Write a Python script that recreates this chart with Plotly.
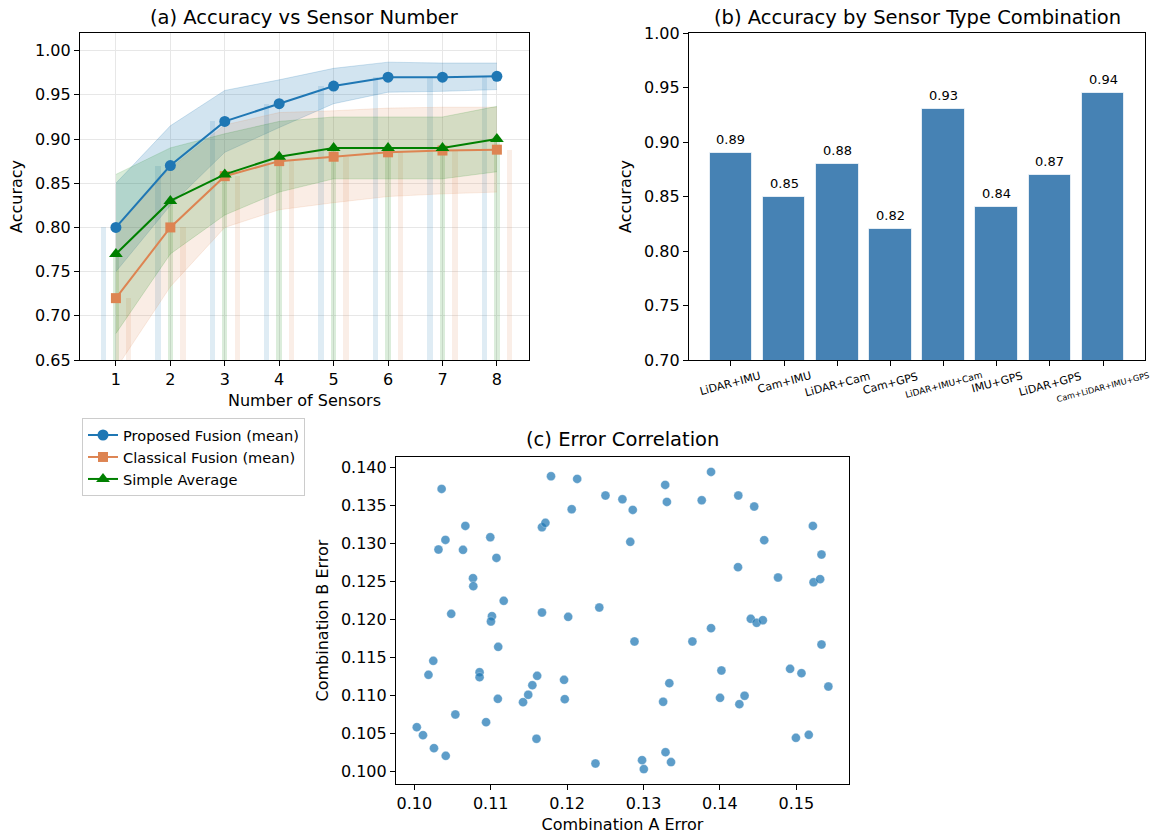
import plotly.graph_objects as go

# ---------------- (a) accuracy vs number of sensors ----------------
n_sensors = [1, 2, 3, 4, 5, 6, 7, 8]
proposed_mean = [0.80, 0.87, 0.92, 0.94, 0.96, 0.97, 0.97, 0.971]
proposed_std = [0.05, 0.045, 0.035, 0.027, 0.02, 0.017, 0.016, 0.015]
classical_mean = [0.72, 0.80, 0.858, 0.875, 0.88, 0.885, 0.887, 0.888]
classical_std = [0.08, 0.067, 0.058, 0.055, 0.052, 0.05, 0.049, 0.048]
simple_mean = [0.77, 0.83, 0.86, 0.88, 0.89, 0.89, 0.89, 0.90]
simple_std = [0.09, 0.06, 0.046, 0.04, 0.035, 0.035, 0.035, 0.037]

# ---------------- (b) accuracy by sensor combination ----------------
combos = ["LiDAR+IMU", "Cam+IMU", "LiDAR+Cam", "Cam+GPS",
          "LiDAR+IMU+Cam", "IMU+GPS", "LiDAR+GPS", "Cam+LiDAR+IMU+GPS"]
combo_acc = [0.89, 0.85, 0.88, 0.82, 0.93, 0.84, 0.87, 0.945]

# ---------------- (c) error correlation ----------------
err_a = [0.10357, 0.10407, 0.10316, 0.10668, 0.10637, 0.10768, 0.10772, 0.10483,
         0.10994, 0.11075, 0.11170, 0.11016, 0.11003, 0.11098, 0.11671, 0.11716,
         0.11789, 0.12132, 0.12060, 0.11671, 0.12014, 0.12421, 0.12502, 0.12724,
         0.12859, 0.12827, 0.12882, 0.13284, 0.13306, 0.13884, 0.13762, 0.14241,
         0.14449, 0.14580, 0.14237, 0.14761, 0.15217, 0.15330, 0.15226, 0.15312,
         0.14404, 0.14481, 0.14562, 0.13884, 0.13640, 0.15330, 0.14919, 0.15068,
         0.15420, 0.14020, 0.14002, 0.14323, 0.14255, 0.13338, 0.13257, 0.14995,
         0.15163, 0.13288, 0.13360, 0.12981, 0.13004, 0.12371, 0.11599, 0.10248,
         0.10185, 0.10854, 0.10854, 0.11608, 0.11545, 0.11491, 0.11423, 0.11093,
         0.11960, 0.11969, 0.10537, 0.10939, 0.10032, 0.10113, 0.10257, 0.10411]
err_b = [0.13719, 0.13048, 0.12921, 0.13232, 0.12917, 0.12544, 0.12439, 0.12075,
         0.13083, 0.12811, 0.12246, 0.12044, 0.11974, 0.11640, 0.13215, 0.13272,
         0.13886, 0.13851, 0.13452, 0.12092, 0.12035, 0.12158, 0.13632, 0.13583,
         0.13443, 0.13022, 0.11711, 0.13772, 0.13548, 0.13943, 0.13570, 0.13632,
         0.13487, 0.13044, 0.12689, 0.12553, 0.13232, 0.12855, 0.12491, 0.12531,
         0.12009, 0.11956, 0.11991, 0.11886, 0.11711, 0.11671, 0.11351, 0.11294,
         0.11118, 0.11329, 0.10969, 0.10996, 0.10886, 0.11162, 0.10917, 0.10443,
         0.10482, 0.10254, 0.10123, 0.10149, 0.10031, 0.10105, 0.10430, 0.11456,
         0.11272, 0.11307, 0.11241, 0.11259, 0.11136, 0.11009, 0.10912, 0.10956,
         0.11206, 0.10952, 0.10750, 0.10649, 0.10583, 0.10478, 0.10307, 0.10206]

# ---------------- styling ----------------
FONT = "DejaVu Sans"
W, H = 1174, 836
BLUE, ORANGE, GREEN = (31, 119, 180), (221, 132, 82), (0, 128, 0)
STEEL = "#4682B4"


def rgba(c, a):
    return f"rgba({c[0]},{c[1]},{c[2]},{a})"


def px_x(p):
    return p / W


def px_y(p):
    return 1 - p / H


series = [
    ("Proposed Fusion (mean)", proposed_mean, proposed_std, BLUE, "circle", 11, 0.2, -0.28),
    ("Classical Fusion (mean)", classical_mean, classical_std, ORANGE, "square", 10, 0.15, 0.18),
    ("Simple Average", simple_mean, simple_std, GREEN, "triangle-up", 12, 0.15, -0.05),
]

fig = go.Figure()

# shaded spread bands
for name, mean, std, col, sym, msize, alpha, off in series:
    upper = [m + s for m, s in zip(mean, std)]
    lower = [m - s for m, s in zip(mean, std)]
    fig.add_trace(go.Scatter(x=n_sensors, y=upper, mode="lines",
                             line=dict(color=rgba(col, alpha), width=1),
                             showlegend=False, hoverinfo="skip", xaxis="x", yaxis="y"))
    fig.add_trace(go.Scatter(x=n_sensors, y=lower, mode="lines", fill="tonexty",
                             fillcolor=rgba(col, alpha),
                             line=dict(color=rgba(col, alpha), width=1),
                             showlegend=False, hoverinfo="skip", xaxis="x", yaxis="y"))

# faint per-method bars
for name, mean, std, col, sym, msize, alpha, off in series:
    fig.add_trace(go.Bar(x=n_sensors, y=mean, base=0, width=0.1, offset=off,
                         marker=dict(color=rgba(col, 0.14), line=dict(width=0)),
                         showlegend=False, hoverinfo="skip", xaxis="x", yaxis="y"))

# mean lines
for name, mean, std, col, sym, msize, alpha, off in series:
    fig.add_trace(go.Scatter(x=n_sensors, y=mean, mode="lines+markers", name=name,
                             line=dict(color=rgba(col, 1), width=2),
                             marker=dict(symbol=sym, size=msize, color=rgba(col, 1)),
                             xaxis="x", yaxis="y"))

# (b) combination bars
combo_idx = list(range(len(combos)))
fig.add_trace(go.Bar(x=combo_idx, y=combo_acc, width=0.8,
                     marker=dict(color=STEEL, line=dict(color="rgba(255,255,255,0.7)", width=1)),
                     showlegend=False, xaxis="x2", yaxis="y2"))

# (c) scatter
fig.add_trace(go.Scatter(x=err_a, y=err_b, mode="markers",
                         marker=dict(size=9, color=rgba(BLUE, 0.72),
                                     line=dict(color="rgba(255,255,255,0.5)", width=0.6)),
                         showlegend=False, xaxis="x3", yaxis="y3"))

axis_common = dict(showline=True, linecolor="black", linewidth=1.2, mirror=True,
                   ticks="outside", ticklen=5, tickwidth=1, tickcolor="black",
                   tickfont=dict(family=FONT, size=16, color="black"),
                   title_font=dict(family=FONT, size=16, color="black"),
                   zeroline=False, automargin=False)

dom_a = [px_x(80), px_x(529)]
dom_b = [px_x(689), px_x(1145)]
dom_c = [px_x(396), px_x(849)]
dom_top = [px_y(360), px_y(33)]
dom_bot = [px_y(784), px_y(457)]

annotations = []
# panel titles
for text, dom, yc in [("(a) Accuracy vs Sensor Number", dom_a, 17),
                      ("(b) Accuracy by Sensor Type Combination", dom_b, 17),
                      ("(c) Error Correlation", dom_c, 439)]:
    annotations.append(dict(text=text, x=(dom[0] + dom[1]) / 2, y=px_y(yc), xref="paper",
                            yref="paper", xanchor="center", yanchor="middle", showarrow=False,
                            font=dict(family=FONT, size=19.5, color="black")))

# value labels over combination bars
for i, v in zip(combo_idx, combo_acc):
    annotations.append(dict(text=f"{v:.2f}", x=i, y=v, xref="x2", yref="y2",
                            xanchor="center", yanchor="bottom", yshift=4, showarrow=False,
                            font=dict(family=FONT, size=13, color="black")))

# rotated category labels for (b)
label_size = {"LiDAR+IMU+Cam": 9, "Cam+LiDAR+IMU+GPS": 8.2}
for i, name in zip(combo_idx, combos):
    annotations.append(dict(text=name, x=i, y=px_y(367), xref="x2", yref="paper",
                            xanchor="center", yanchor="top", textangle=-15, showarrow=False,
                            font=dict(family=FONT, size=label_size.get(name, 11), color="black")))

fig.update_layout(
    width=W, height=H,
    margin=dict(l=0, r=0, t=0, b=0, pad=0, autoexpand=False),
    paper_bgcolor="white", plot_bgcolor="white",
    barmode="overlay", bargap=0,
    font=dict(family=FONT, color="black"),
    xaxis=dict(domain=dom_a, anchor="y", range=[0.34, 8.59], tickvals=n_sensors,
               showgrid=True, gridcolor="#e7e7e7", gridwidth=1,
               title=dict(text="Number of Sensors", standoff=6), **axis_common),
    yaxis=dict(domain=dom_top, anchor="x", range=[0.65, 1.02], dtick=0.05, tick0=0.65,
               tickformat=".2f", showgrid=True, gridcolor="#e7e7e7", gridwidth=1,
               title=dict(text="Accuracy", standoff=8), **axis_common),
    xaxis2=dict(domain=dom_b, anchor="y2", range=[-0.79, 7.79], tickvals=combo_idx,
                showticklabels=False, showgrid=False, **axis_common),
    yaxis2=dict(domain=dom_top, anchor="x2", range=[0.70, 1.00], dtick=0.05, tick0=0.70,
                tickformat=".2f", showgrid=False,
                title=dict(text="Accuracy", standoff=8), **axis_common),
    xaxis3=dict(domain=dom_c, anchor="y3", range=[0.0976, 0.1569], dtick=0.01, tick0=0.10,
                tickformat=".2f", showgrid=False,
                title=dict(text="Combination A Error", standoff=6), **axis_common),
    yaxis3=dict(domain=dom_bot, anchor="x3", range=[0.09835, 0.14139], dtick=0.005, tick0=0.100,
                tickformat=".3f", showgrid=False,
                title=dict(text="Combination B Error", standoff=8), **axis_common),
    legend=dict(x=px_x(82), y=px_y(418), xanchor="left", yanchor="top",
                traceorder="normal",
                bgcolor="white", bordercolor="#cccccc", borderwidth=1,
                font=dict(family=FONT, size=14.6, color="black")),
    annotations=annotations,
)

fig.write_html("out.html")
